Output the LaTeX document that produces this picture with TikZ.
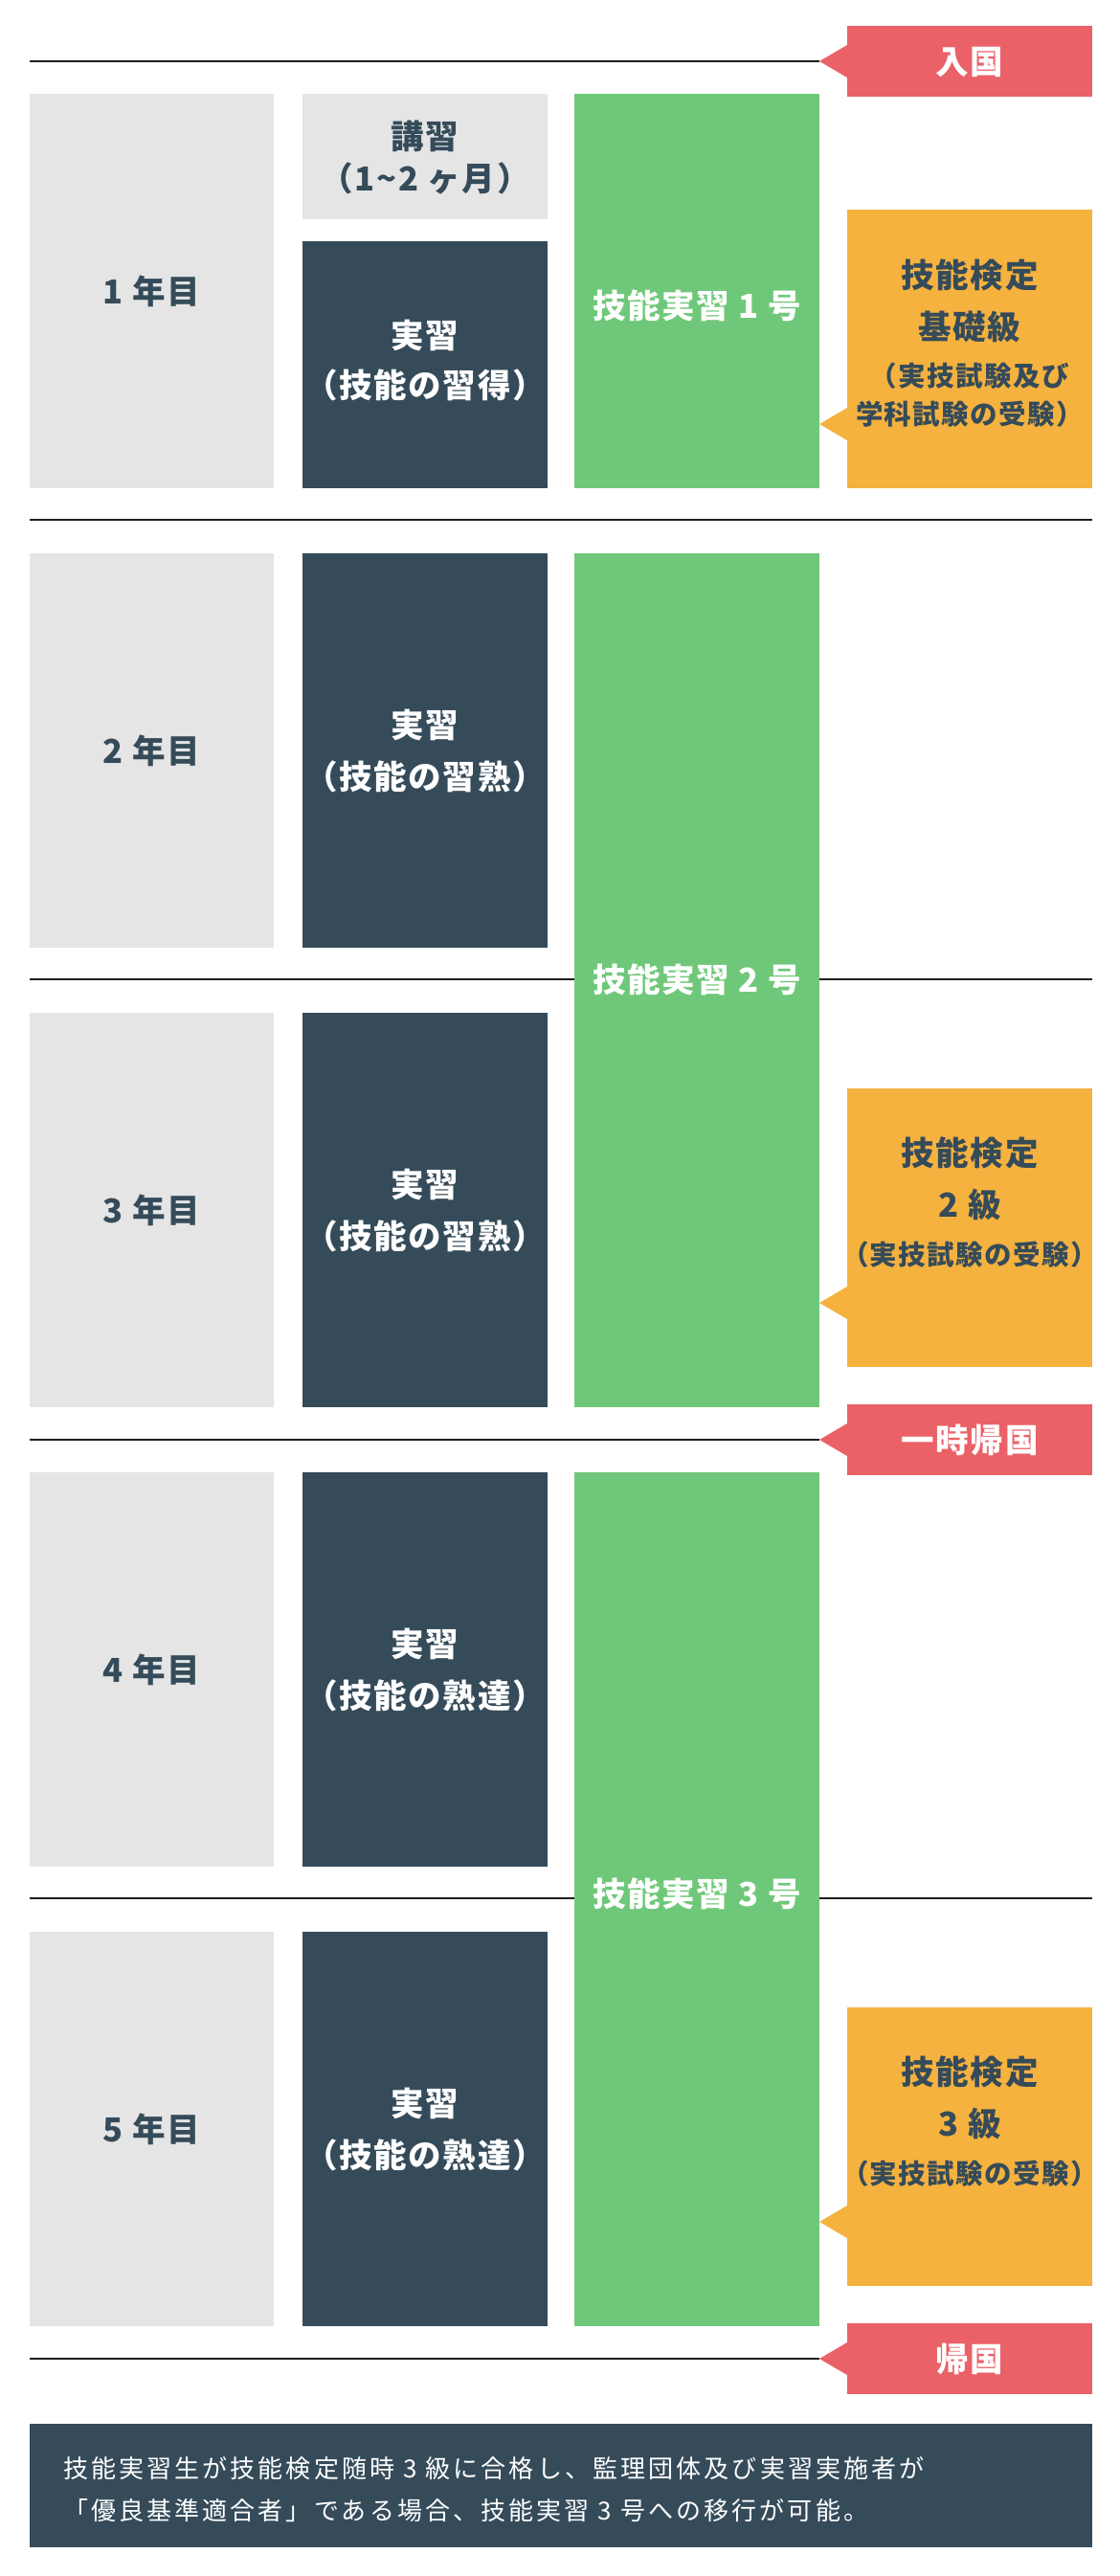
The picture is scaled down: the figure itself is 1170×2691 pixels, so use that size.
\documentclass[tikz,border=0pt]{standalone}
\usepackage{fontspec}
\setmainfont{Noto Sans CJK JP}
\definecolor{cgray}{HTML}{E5E5E5}
\definecolor{cdark}{HTML}{354B5A}
\definecolor{cgreen}{HTML}{6FC879}
\definecolor{corange}{HTML}{F5B23F}
\definecolor{cred}{HTML}{EA6168}
\definecolor{cline}{HTML}{1E1E1E}
\newcommand\fbig{\fontsize{34.5}{40}\selectfont\bfseries\addfontfeatures{LetterSpace=5}}
\newcommand\fsub{\fontsize{28.5}{32}\selectfont\bfseries\addfontfeatures{LetterSpace=5}}
\newcommand\fnote{\fontsize{26}{30}\selectfont\addfontfeatures{LetterSpace=12}}
\begin{document}
\begin{tikzpicture}[x=1pt,y=-1pt,
  every node/.style={inner sep=0pt,outer sep=0pt},
  blk/.style={rectangle,anchor=north west,minimum width=256,draw=none},
  graybox/.style={blk,fill=cgray},
  darkbox/.style={blk,fill=cdark},
  greenbox/.style={blk,fill=cgreen},
  orangebox/.style={blk,fill=corange},
  tagbox/.style={blk,fill=cred,minimum height=74},
  rule/.style={draw=cline,line width=1.6pt},
  big/.style={anchor=base,font=\fbig},
  sub/.style={anchor=base,font=\fsub},
  onlight/.style={text=cdark},
  ondark/.style={text=white},
]
\useasboundingbox (0,0) rectangle (1170,2691);
\fill[white] (0,0) rectangle (1170,2691);

% ---------- tags (red) ----------
\node[tagbox] (tagA) at (885,27) {};
\node[tagbox] (tagB) at (885,1467) {};
\node[tagbox] (tagC) at (885,2427) {};
\foreach \t in {tagA,tagB,tagC}{
  \fill[cred] ([yshift=17pt]\t.west) -- ([xshift=-29pt]\t.west) -- ([yshift=-17pt]\t.west) -- cycle;
}
\coordinate (tagAtip) at ([xshift=-29pt]tagA.west);
\coordinate (tagBtip) at ([xshift=-29pt]tagB.west);
\coordinate (tagCtip) at ([xshift=-29pt]tagC.west);

% ---------- horizontal rules ----------
\coordinate (L0) at (31,64);
\coordinate (L1a) at (31,543);  \coordinate (L1b) at (1141,543);
\coordinate (L2a) at (31,1023); \coordinate (L2b) at (1141,1023);
\coordinate (L3) at (31,1504);
\coordinate (L4a) at (31,1983); \coordinate (L4b) at (1141,1983);
\coordinate (L5) at (31,2464);
\draw[rule] (L0) -- (tagAtip);
\draw[rule] (L1a) -- (L1b);
\draw[rule] (L2a) -- (L2b);
\draw[rule] (L3) -- (tagBtip);
\draw[rule] (L4a) -- (L4b);
\draw[rule] (L5) -- (tagCtip);

% ---------- column 1: years ----------
\node[graybox,minimum width=255,minimum height=412] (y1) at (31,98) {};
\node[graybox,minimum width=255,minimum height=412] (y2) at (31,578) {};
\node[graybox,minimum width=255,minimum height=412] (y3) at (31,1058) {};
\node[graybox,minimum width=255,minimum height=412] (y4) at (31,1538) {};
\node[graybox,minimum width=255,minimum height=412] (y5) at (31,2018) {};

% ---------- column 2 ----------
\node[graybox,minimum height=131] (k1) at (316,98) {};
\node[darkbox,minimum height=258] (j1) at (316,252) {};
\node[darkbox,minimum height=412] (j2) at (316,578) {};
\node[darkbox,minimum height=412] (j3) at (316,1058) {};
\node[darkbox,minimum height=412] (j4) at (316,1538) {};
\node[darkbox,minimum height=412] (j5) at (316,2018) {};

% ---------- column 3: green ----------
\node[greenbox,minimum height=412] (g1) at (600,98) {};
\node[greenbox,minimum height=892] (g2) at (600,578) {};
\node[greenbox,minimum height=892] (g3) at (600,1538) {};

% ---------- column 4: orange ----------
\node[orangebox,minimum height=291] (o1) at (885,219) {};
\node[orangebox,minimum height=291] (o3) at (885,1137) {};
\node[orangebox,minimum height=291] (o5) at (885,2097) {};
\fill[corange] ([yshift=67pt]o1.south west) ++(0,17) -- ++(-29,-17) coordinate (o1tip) -- ++(29,-17) -- cycle;
\fill[corange] ([yshift=67pt]o3.south west) ++(0,17) -- ++(-29,-17) coordinate (o3tip) -- ++(29,-17) -- cycle;
\fill[corange] ([yshift=67pt]o5.south west) ++(0,17) -- ++(-29,-17) coordinate (o5tip) -- ++(29,-17) -- cycle;

% ---------- bottom note ----------
\node[blk,fill=cdark,minimum width=1110,minimum height=129] (note) at (31,2532) {};

% ---------- texts ----------
% tags
\node[big,ondark] (tagAt) at (1013,77) {入国};
\node[big,ondark] (tagBt) at (1013,1517) {一時帰国};
\node[big,ondark] (tagCt) at (1013,2477) {帰国};
% years
\node[big,onlight] (y1t) at (158.5,317) {1 年目};
\node[big,onlight] (y2t) at (158.5,797) {2 年目};
\node[big,onlight] (y3t) at (158.5,1277) {3 年目};
\node[big,onlight] (y4t) at (158.5,1757) {4 年目};
\node[big,onlight] (y5t) at (158.5,2237) {5 年目};
% column 2
\node[big,onlight] (k1a) at (444,155) {講習};
\node[big,onlight] (k1b) at (444,199) {（1\textasciitilde 2 ヶ月）};
\node[big,ondark] (j1a) at (444,363) {実習};
\node[big,ondark] (j1b) at (444,415) {（技能の習得）};
\node[big,ondark] (j2a) at (444,770) {実習};
\node[big,ondark] (j2b) at (444,824) {（技能の習熟）};
\node[big,ondark] (j3a) at (444,1250) {実習};
\node[big,ondark] (j3b) at (444,1304) {（技能の習熟）};
\node[big,ondark] (j4a) at (444,1730) {実習};
\node[big,ondark] (j4b) at (444,1784) {（技能の熟達）};
\node[big,ondark] (j5a) at (444,2210) {実習};
\node[big,ondark] (j5b) at (444,2264) {（技能の熟達）};
% green
\node[big,ondark] (g1t) at (728,332) {技能実習 1 号};
\node[big,ondark] (g2t) at (728,1036) {技能実習 2 号};
\node[big,ondark] (g3t) at (728,1991) {技能実習 3 号};
% orange
\node[big,onlight] (o1a) at (1013,300) {技能検定};
\node[big,onlight] (o1b) at (1013,354) {基礎級};
\node[sub,onlight] (o1c) at (1013,403) {（実技試験及び};
\node[sub,onlight] (o1d) at (1013,443) {学科試験の受験）};
\node[big,onlight] (o3a) at (1013,1217) {技能検定};
\node[big,onlight] (o3b) at (1013,1271) {2 級};
\node[sub,onlight] (o3c) at (1013,1321) {（実技試験の受験）};
\node[big,onlight] (o5a) at (1013,2177) {技能検定};
\node[big,onlight] (o5b) at (1013,2231) {3 級};
\node[sub,onlight] (o5c) at (1013,2281) {（実技試験の受験）};
% note
\node[anchor=base west,font=\fnote,text=white] (n1) at (66,2588) {技能実習生が技能検定随時 3 級に合格し、監理団体及び実習実施者が};
\node[anchor=base west,font=\fnote,text=white] (n2) at (66,2632) {「優良基準適合者」である場合、技能実習 3 号への移行が可能。};
\end{tikzpicture}
\end{document}
